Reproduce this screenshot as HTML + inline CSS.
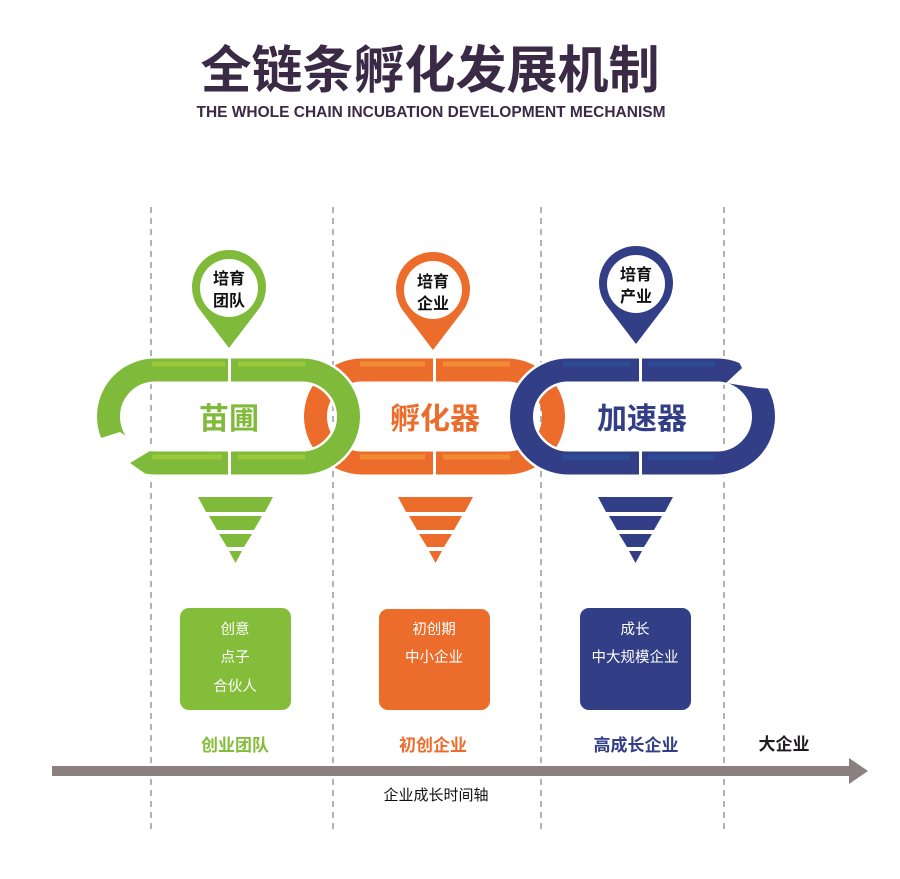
<!DOCTYPE html>
<html><head><meta charset="utf-8"><style>
body{margin:0;background:#fff;}
svg{display:block}
text{font-family:"Liberation Sans","Noto Sans CJK SC",sans-serif;}
</style></head><body>
<svg width="900" height="879" viewBox="0 0 900 879" xmlns="http://www.w3.org/2000/svg">
<rect width="900" height="879" fill="#fff"/>
<text x="430" y="88" text-anchor="middle" font-size="51" font-weight="bold" fill="#3a2a45" font-family="Noto Sans CJK SC, sans-serif">全链条孵化发展机制</text>
<text x="431" y="117" text-anchor="middle" font-size="15.5" fill="#3a2a45" font-weight="bold">THE WHOLE CHAIN INCUBATION DEVELOPMENT MECHANISM</text>
<g stroke="#888" stroke-width="1.3" stroke-dasharray="6,5">
<line x1="151" y1="207" x2="151" y2="830"/><line x1="333" y1="207" x2="333" y2="830"/>
<line x1="541" y1="207" x2="541" y2="830"/><line x1="724" y1="207" x2="724" y2="830"/>
</g>
<!-- links -->
<g fill="none" stroke-width="23">
<rect x="315.5" y="370" width="238" height="93" rx="46.5" stroke="#ec6d2b"/>
<rect x="108.5" y="370" width="240" height="93" rx="46.5" stroke="#fff" stroke-width="28"/>
<rect x="108.5" y="370" width="240" height="93" rx="46.5" stroke="#7fba3a"/>
<rect x="521.5" y="370" width="242" height="93" rx="46.5" stroke="#fff" stroke-width="28"/>
<rect x="521.5" y="370" width="242" height="93" rx="46.5" stroke="#323f86"/>
</g>
<!-- highlights -->
<g stroke-width="5">
<line x1="152" y1="364" x2="225" y2="364" stroke="#9cc83c"/><line x1="238" y1="364" x2="305" y2="364" stroke="#9cc83c"/>
<line x1="152" y1="457" x2="222" y2="457" stroke="#9cc83c"/><line x1="238" y1="457" x2="305" y2="457" stroke="#9cc83c"/>
<line x1="360" y1="364" x2="425" y2="364" stroke="#f28c34"/><line x1="443" y1="364" x2="510" y2="364" stroke="#f28c34"/>
<line x1="360" y1="457" x2="425" y2="457" stroke="#f28c34"/><line x1="443" y1="457" x2="510" y2="457" stroke="#f28c34"/>
<line x1="563" y1="364" x2="630" y2="364" stroke="#2c4d95"/><line x1="648" y1="364" x2="715" y2="364" stroke="#2c4d95"/>
<line x1="563" y1="457" x2="630" y2="457" stroke="#2c4d95"/><line x1="648" y1="457" x2="715" y2="457" stroke="#2c4d95"/>
</g>
<!-- gaps -->
<g fill="#fff">
<rect x="228" y="355" width="3" height="30"/><rect x="228" y="448" width="3" height="30"/>
<rect x="433" y="355" width="3" height="30"/><rect x="433" y="448" width="3" height="30"/>
<rect x="639" y="355" width="3" height="30"/><rect x="639" y="448" width="3" height="30"/>
<polygon points="88,442 120,432 150,451 130,463 150,477 88,477"/>
<polygon points="726,383 742,368 736,356 790,356 790,390 758,388"/>
</g>
<text x="229" y="429" text-anchor="middle" font-size="30" font-weight="bold" fill="#7fba3a">苗圃</text>
<text x="435" y="429" text-anchor="middle" font-size="30" font-weight="bold" fill="#ec6d2b">孵化器</text>
<text x="642" y="429" text-anchor="middle" font-size="30" font-weight="bold" fill="#323f86">加速器</text>
<!-- pins -->
<g>
<path d="M229 348 L200 310 A37 37 0 1 1 258 310 Z" fill="#7fba3a"/><circle cx="229" cy="288" r="29" fill="#fff"/>
<path d="M433 350 L404 312 A37 37 0 1 1 462 312 Z" fill="#ec6d2b"/><circle cx="433" cy="290" r="29" fill="#fff"/>
<path d="M636 344 L607 306 A37 37 0 1 1 665 306 Z" fill="#323f86"/><circle cx="636" cy="284" r="29" fill="#fff"/>
</g>
<g font-size="16" font-weight="bold" fill="#111" text-anchor="middle">
<text x="229" y="284">培育</text><text x="229" y="306">团队</text>
<text x="433" y="287">培育</text><text x="433" y="309">企业</text>
<text x="636" y="280">培育</text><text x="636" y="302">产业</text>
</g>
<!-- funnels -->
<g>
<g fill="#7fba3a"><polygon points="198,497 273,497 265,512 206,512"/><polygon points="209,516 262,516 254,530 217,530"/><polygon points="219,534 252,534 244,547 227,547"/><polygon points="229,551 242,551 235.5,563"/></g>
<g fill="#ec6d2b"><polygon points="398,497 473,497 465,512 406,512"/><polygon points="409,516 462,516 454,530 417,530"/><polygon points="419,534 452,534 444,547 427,547"/><polygon points="429,551 442,551 435.5,563"/></g>
<g fill="#323f86"><polygon points="598,497 673,497 665,512 606,512"/><polygon points="609,516 662,516 654,530 617,530"/><polygon points="619,534 652,534 644,547 627,547"/><polygon points="629,551 642,551 635.5,563"/></g>
</g>
<!-- boxes -->
<rect x="180" y="608" width="111" height="102" rx="9" fill="#84bd3a"/>
<rect x="379" y="609" width="111" height="101" rx="9" fill="#ec6d2b"/>
<rect x="580" y="608" width="111" height="102" rx="9" fill="#323f86"/>
<g font-size="14.5" fill="#fff" text-anchor="middle">
<text x="235" y="634">创意</text><text x="235" y="662">点子</text><text x="235" y="691">合伙人</text>
<text x="434" y="634">初创期</text><text x="434" y="662">中小企业</text>
<text x="635" y="634">成长</text><text x="635" y="662">中大规模企业</text>
</g>
<g font-size="17" font-weight="bold" text-anchor="middle">
<text x="235" y="751" fill="#84bd3a">创业团队</text>
<text x="433" y="751" fill="#ec6d2b">初创企业</text>
<text x="636" y="751" fill="#323f86">高成长企业</text>
<text x="784" y="750" fill="#221a22">大企业</text>
</g>
<rect x="52" y="766" width="800" height="10" fill="#8a807f"/>
<polygon points="849,758 868,771 849,784" fill="#8a807f"/>
<text x="436" y="800" text-anchor="middle" font-size="15" fill="#111">企业成长时间轴</text>
</svg>
</body></html>
